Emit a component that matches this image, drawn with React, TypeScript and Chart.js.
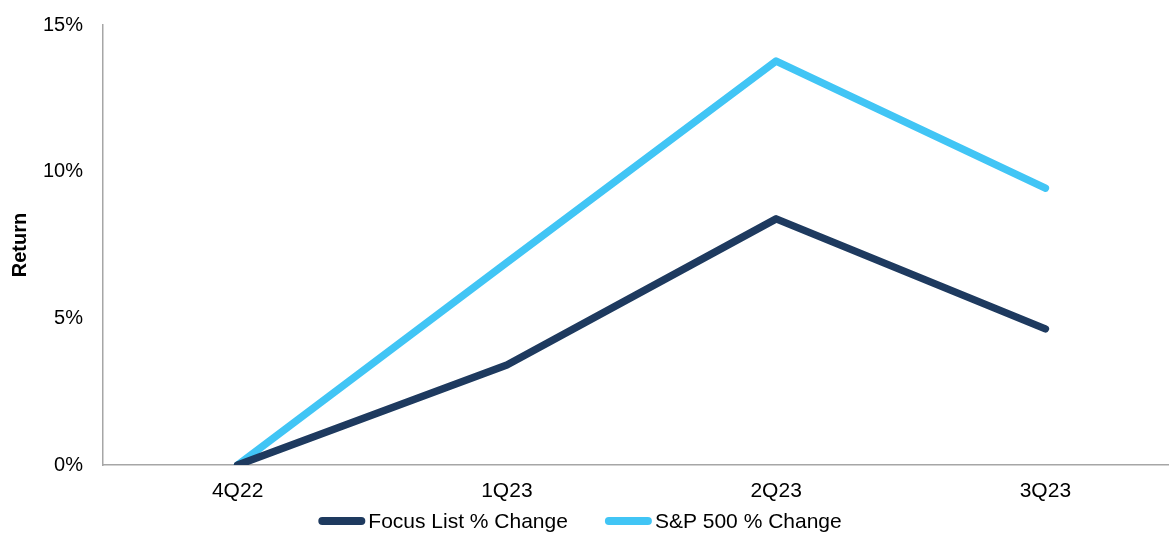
import React, { useEffect, useRef } from "react";
import { Chart, registerables } from "chart.js";

Chart.register(...registerables);

const categories = ["4Q22", "1Q23", "2Q23", "3Q23"];
const focusList = [0, 3.41, 8.39, 4.64];
const sp500 = [0, 6.9, 13.77, 9.44];
const yTicks = [0, 5, 10, 15];

const FONT = "Liberation Sans, Arial, Helvetica, sans-serif";

const legendPlugin = {
  id: "customLegend",
  afterDraw(chart: any) {
    const ctx = chart.ctx as CanvasRenderingContext2D;
    const datasets = chart.data.datasets;
    const boxW = 47;
    const boxH = 8;
    const gapText = 3;
    const gapItems = 37;
    const centerX = 580;
    const y = 521;
    ctx.save();
    ctx.font = `21px ${FONT}`;
    const widths = datasets.map((d: any) => ctx.measureText(d.label).width);
    const total =
      widths.reduce((a: number, w: number) => a + w + boxW + gapText, 0) +
      gapItems * (datasets.length - 1);
    let x = centerX - total / 2;
    datasets.forEach((d: any, i: number) => {
      ctx.strokeStyle = d.borderColor;
      ctx.lineWidth = boxH;
      ctx.lineCap = "round";
      ctx.beginPath();
      ctx.moveTo(x + boxH / 2, y);
      ctx.lineTo(x + boxW - boxH / 2, y);
      ctx.stroke();
      x += boxW + gapText;
      ctx.fillStyle = "#000";
      ctx.textBaseline = "middle";
      ctx.textAlign = "left";
      ctx.fillText(d.label, x, y + 1);
      x += widths[i] + gapItems;
    });
    ctx.restore();
  },
};

export default function App() {
  const ref = useRef<HTMLCanvasElement>(null);
  useEffect(() => {
    document.body.style.margin = "0";
    document.body.style.overflow = "hidden";
    const chart = new Chart(ref.current!, {
      type: "line",
      data: {
        labels: categories,
        datasets: [
          {
            label: "Focus List % Change",
            data: focusList,
            borderColor: "#1E3A5F",
            backgroundColor: "#1E3A5F",
            borderWidth: 7.5,
            borderCapStyle: "round",
            borderJoinStyle: "round",
            pointRadius: 0,
            tension: 0,
          },
          {
            label: "S&P 500 % Change",
            data: sp500,
            borderColor: "#41C5F5",
            backgroundColor: "#41C5F5",
            borderWidth: 7.5,
            borderCapStyle: "round",
            borderJoinStyle: "round",
            pointRadius: 0,
            tension: 0,
          },
        ],
      },
      plugins: [legendPlugin],
      options: {
        animation: false,
        responsive: false,
        maintainAspectRatio: false,
        layout: { padding: { top: 25, left: 0, right: 0, bottom: 31 } },
        plugins: {
          tooltip: { enabled: false },
          legend: { display: false },
        },
        scales: {
          x: {
            type: "category",
            offset: true,
            grid: { display: false, drawTicks: false },
            border: { display: true, color: "#A6A6A6", width: 1.5 },
            ticks: {
              font: { family: FONT, size: 21 },
              color: "#000",
              padding: 14,
              maxRotation: 0,
            },
            afterFit: (scale: any) => {
              scale.height = 37;
              scale.paddingLeft = 0;
              scale.paddingRight = 0;
            },
          },
          y: {
            min: 0,
            max: 15,
            afterBuildTicks: (axis: any) => {
              axis.ticks = yTicks.map((v) => ({ value: v }));
            },
            grid: { display: false, drawTicks: false },
            border: { display: true, color: "#A6A6A6", width: 1.5 },
            ticks: {
              font: { family: FONT, size: 20 },
              color: "#000",
              padding: 20,
              callback: (v: any) => v + "%",
            },
            title: {
              display: true,
              text: "Return",
              font: { family: FONT, size: 20, weight: "bold" },
              color: "#000",
              padding: { top: 8, bottom: 11 },
            },
            afterFit: (scale: any) => {
              scale.width = 103;
              scale.paddingTop = 0;
              scale.paddingBottom = 0;
            },
          },
        },
      },
    });
    return () => chart.destroy();
  }, []);
  return (
    <div style={{ position: "absolute", left: 0, top: 0, width: 1180, height: 533 }}>
      <canvas ref={ref} width={1180} height={533} style={{ width: 1180, height: 533 }} />
    </div>
  );
}
